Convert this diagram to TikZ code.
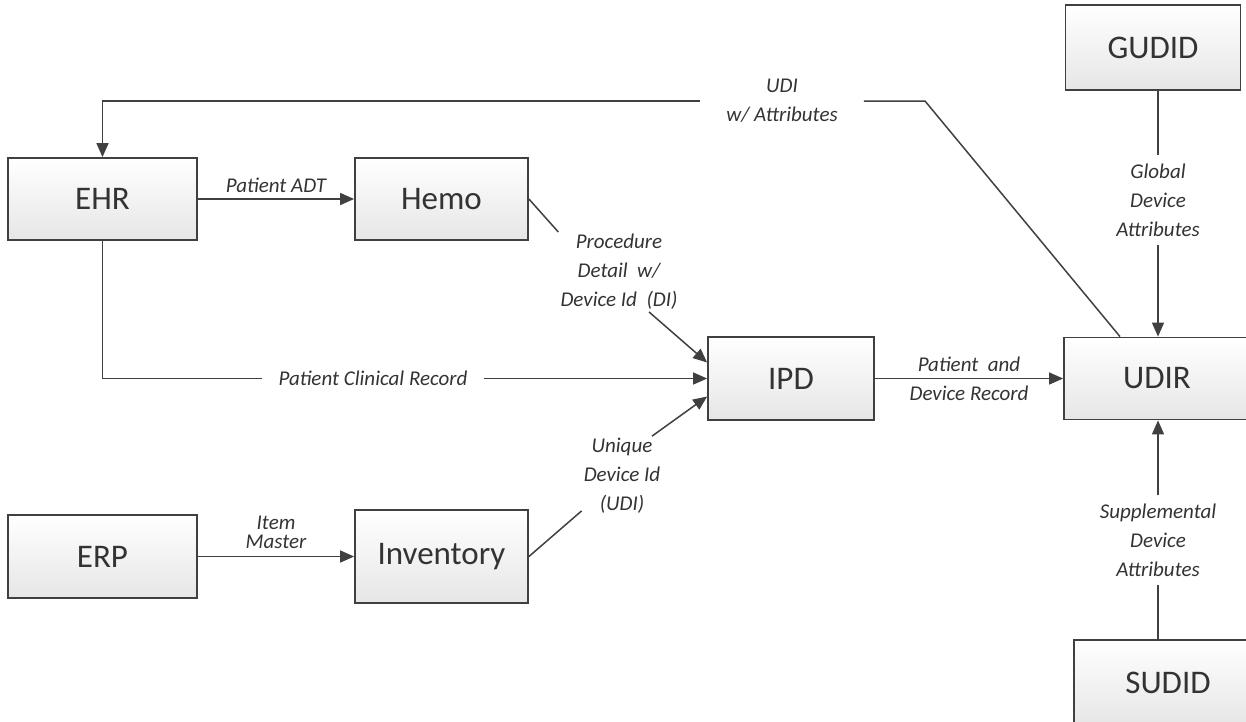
\documentclass[tikz,border=0pt]{standalone}
\usepackage{fontspec}
\setmainfont{Carlito}
\usetikzlibrary{arrows.meta}
\definecolor{linegray}{HTML}{404040}
\definecolor{boxgray}{HTML}{E6E6E6}
\definecolor{textgray}{HTML}{333333}

\begin{document}
\begin{tikzpicture}[x=1pt,y=-1pt,
  box/.style={draw=linegray,line width=1.8pt,top color=white,bottom color=boxgray,
    text=textgray,font=\fontsize{33}{36}\selectfont},
  lbl/.style={font=\fontsize{21}{29}\selectfont\itshape,text=textgray,align=center,inner sep=2pt},
  link/.style={draw=linegray,line width=1.5pt},
  arr/.style={link,-{Triangle[length=14pt,width=12pt]}}]
\useasboundingbox (0,0) rectangle (1246,721);

% boxes
\node[box,minimum width=189pt,minimum height=82pt] (ehr) at (102.5,199) {EHR};
\node[box,minimum width=173pt,minimum height=82pt] (hemo) at (441.5,199) {Hemo};
\node[box,minimum width=189pt,minimum height=83pt] (erp) at (102.5,556.5) {ERP};
\node[box,minimum width=173pt,minimum height=93pt] (inv) at (441.5,556.5) {Inventory};
\node[box,minimum width=166pt,minimum height=83pt] (ipd) at (791,378.5) {IPD};
\node[box,minimum width=186pt,minimum height=82pt] (udir) at (1157,378.5) {UDIR};
\node[box,minimum width=175pt,minimum height=85pt] (gudid) at (1153,47.5) {GUDID};
\node[box,minimum width=188pt,minimum height=86pt] (sudid) at (1168,683) {SUDID};

% labels that cut the lines
\node[lbl,inner xsep=26pt] (udiw) at (782,101) {UDI\\w/ Attributes};
\node[lbl] (pdl) at (619,272) {Procedure\\Detail\ \ w/\\Device Id\ \ (DI)};
\node[lbl,inner xsep=16pt] (pcr) at (373,378.5) {Patient Clinical Record};
\node[lbl] (udl) at (622,476) {Unique\\Device Id\\(UDI)};
\node[lbl] (pdr) at (969,378.5) {Patient\ \ and\\Device Record};
\node[lbl,inner ysep=8pt] (gda) at (1158,200) {Global\\Device\\Attributes};
\node[lbl,inner ysep=8pt] (sda) at (1158,540) {Supplemental\\Device\\Attributes};
\coordinate (bend) at (925,101);

% connectors
\draw[arr] (ehr) -- node[lbl,above=4pt] {Patient ADT} (hemo);
\draw[arr] (erp) -- node[lbl,above=5pt] {Item\\[-10pt]Master} (inv);
\draw[link] ([xshift=-37pt]udir.north) -- (bend) -- (udiw.east);
\draw[arr] (udiw.west) -| (ehr.north);
\draw[link] (hemo.east) -- (pdl.north west);
\draw[arr] ([xshift=30pt]pdl.south) -- ([yshift=16pt]ipd.west);
\draw[link] (ehr.south) |- (pcr.west);
\draw[arr] (pcr.east) -- (ipd.west);
\draw[link] (inv.east) -- (udl);
\draw[arr] ([xshift=30pt]udl.north) -- ([yshift=-18pt]ipd.west);
\draw[arr] (ipd) -- (udir);
\draw[link] (gudid.south -| gda.north) -- (gda.north);
\draw[arr] (gda.south) -- (gda.south |- udir.north);
\draw[link] (sudid.north -| sda.south) -- (sda.south);
\draw[arr] (sda.north) -- (sda.north |- udir.south);

\end{tikzpicture}
\end{document}
